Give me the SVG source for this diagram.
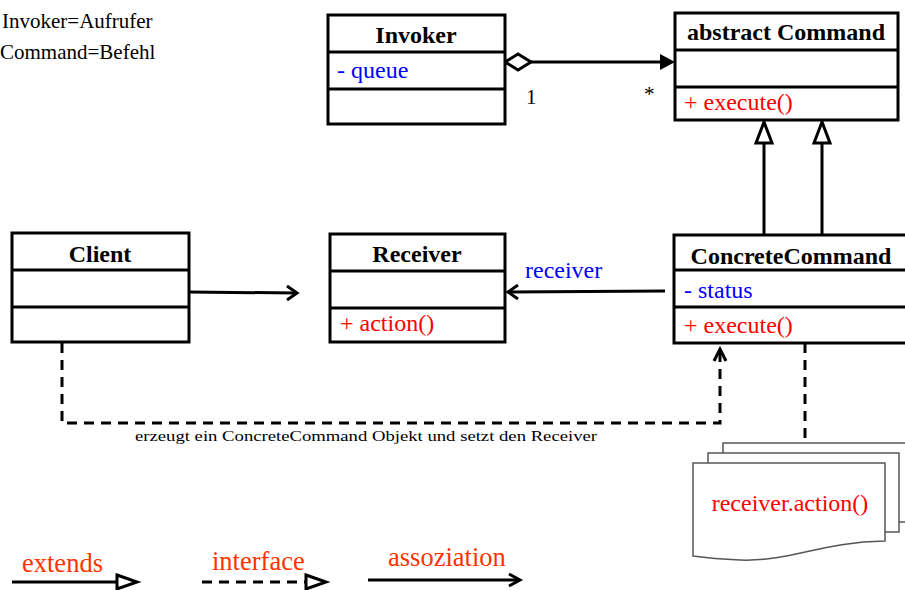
<svg xmlns="http://www.w3.org/2000/svg" width="905" height="590" viewBox="0 0 905 590">
<style>
text{font-family:"Liberation Serif","Times New Roman",serif;}
.box{fill:#fff;stroke:#000;stroke-width:3;}
.div{stroke:#000;stroke-width:3;}
.title{font-size:24px;font-weight:bold;text-anchor:middle;fill:#000;}
.attr{font-size:24px;fill:#0000ff;}
.op{font-size:24px;fill:#ff0000;}
.note{font-size:21px;fill:#000;}
.leg{font-size:26.5px;fill:#ff3300;}
.con{fill:none;stroke:#000;stroke-width:3;}
.dash{fill:none;stroke:#000;stroke-width:3;stroke-dasharray:10,7;}
.doc{fill:#fff;stroke:#555;stroke-width:1.5;}
</style>
<rect width="905" height="590" fill="#fff"/>
<g id="notes">
<text class="note" x="2" y="28" font-size="20">Invoker=Aufrufer</text>
<text class="note" x="0" y="59" font-size="20">Command=Befehl</text>
</g>
<g id="connectors">
<polygon points="505,62 518,54 531,62 518,70" fill="#fff" stroke="#000" stroke-width="3"/>
<line class="con" x1="531" y1="62" x2="662" y2="62"/>
<polygon points="675,62 660,54 660,70" fill="#000"/>
<line class="con" x1="764" y1="143" x2="764" y2="235"/>
<polygon points="764,122 756,143 772,143" fill="#fff" stroke="#000" stroke-width="3"/>
<line class="con" x1="822" y1="143" x2="822" y2="235"/>
<polygon points="822,122 814,143 830,143" fill="#fff" stroke="#000" stroke-width="3"/>
<line class="con" x1="189" y1="292" x2="296" y2="293"/>
<polyline class="con" points="287,286 297,293 287,300"/>
<line class="con" x1="665" y1="291" x2="509" y2="292"/>
<polyline class="con" points="518,285 508,292 518,299"/>
<path class="dash" d="M62,343 V423 H720 V352"/>
<polyline class="con" points="714,361 720,349 726,361"/>
<line class="dash" x1="805" y1="343" x2="805" y2="443"/>
<text x="135" y="441" font-size="15" textLength="462" lengthAdjust="spacingAndGlyphs" fill="#000">erzeugt ein ConcreteCommand Objekt und setzt den Receiver</text>
<text x="526" y="104" font-size="21" fill="#000">1</text>
<text x="644" y="101" font-size="21" fill="#000">*</text>
<text class="attr" x="525" y="278">receiver</text>
</g>
<g id="invoker">
<rect class="box" x="328" y="15" width="177" height="109"/>
<line class="div" x1="328" y1="52" x2="505" y2="52"/>
<line class="div" x1="328" y1="89" x2="505" y2="89"/>
<text class="title" x="416" y="43">Invoker</text>
<text class="attr" x="337" y="78">- queue</text>
</g>
<g id="command">
<rect class="box" x="675" y="13" width="223" height="107"/>
<line class="div" x1="675" y1="50" x2="898" y2="50"/>
<line class="div" x1="675" y1="87" x2="898" y2="87"/>
<text class="title" x="786" y="40">abstract Command</text>
<text class="op" x="684" y="110">+ execute()</text>
</g>
<g id="client">
<rect class="box" x="12" y="233" width="177" height="109"/>
<line class="div" x1="12" y1="270" x2="189" y2="270"/>
<line class="div" x1="12" y1="307" x2="189" y2="307"/>
<text class="title" x="100" y="262">Client</text>
</g>
<g id="receiver">
<rect class="box" x="330" y="234" width="175" height="108"/>
<line class="div" x1="330" y1="271" x2="505" y2="271"/>
<line class="div" x1="330" y1="308" x2="505" y2="308"/>
<text class="title" x="417" y="262">Receiver</text>
<text class="op" x="340" y="331">+ action()</text>
</g>
<g id="concretecommand">
<rect class="box" x="674" y="235" width="240" height="108"/>
<line class="div" x1="674" y1="270" x2="910" y2="270"/>
<line class="div" x1="674" y1="307" x2="910" y2="307"/>
<text class="title" x="791" y="264">ConcreteCommand</text>
<text class="attr" x="684" y="298">- status</text>
<text class="op" x="684" y="333">+ execute()</text>
</g>
<g id="documents">
<path class="doc" d="M723,480 V443 H910 M899,522 H910"/>
<path class="doc" d="M708,500 V453 H899 V532 H880"/>
<path class="doc" d="M693,463 H885 V541 C820,542 790,562 740,560 C715,559 700,557 693,556 Z"/>
<text x="790" y="511" font-size="24" fill="#ff0000" text-anchor="middle">receiver.action()</text>
</g>
<g id="legend">
<text class="leg" x="22" y="572">extends</text>
<line class="con" x1="12" y1="582" x2="116" y2="582"/>
<polygon points="117,575 137,582 117,589" fill="#fff" stroke="#000" stroke-width="3"/>
<text class="leg" x="212" y="570">interface</text>
<line class="dash" x1="202" y1="582" x2="305" y2="582"/>
<polygon points="306,575 326,582 306,589" fill="#fff" stroke="#000" stroke-width="3"/>
<text class="leg" x="388" y="566">assoziation</text>
<line class="con" x1="368" y1="580" x2="519" y2="580"/>
<polyline class="con" points="509,574 520,580 509,586"/>
</g>
</svg>
